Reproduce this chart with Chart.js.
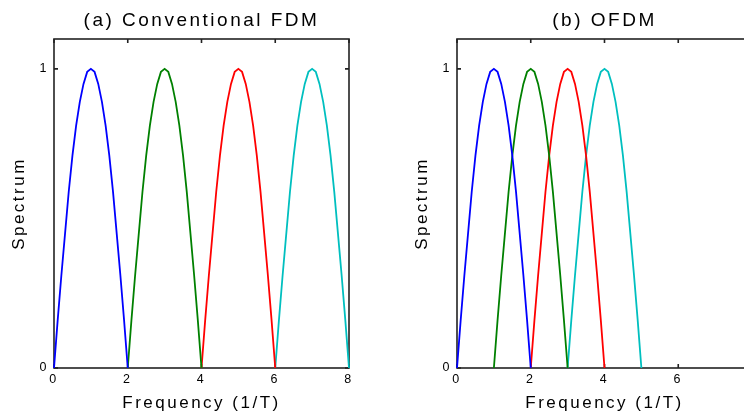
<!DOCTYPE html>
<html><head><meta charset="utf-8">
<script src="https://cdn.jsdelivr.net/npm/chart.js@4.4.1/dist/chart.umd.min.js"></script>
<style>
html,body{margin:0;padding:0;background:#fff;overflow:hidden;width:744px;height:416px;}
#wrapA{position:absolute;left:0;top:0;width:372px;height:416px;}
#wrapB{position:absolute;left:372px;top:0;width:403px;height:416px;}
canvas{display:block;}
</style></head><body>
<div id="wrapA"><canvas id="chartA" width="372" height="416" style="width:372px;height:416px"></canvas></div>
<div id="wrapB"><canvas id="chartB" width="403" height="416" style="width:403px;height:416px"></canvas></div>
<script>
// ---- data ----
const humpOffsets = [0,0.1,0.2,0.3,0.4,0.5,0.6,0.7,0.8,0.9,1.0,1.1,1.2,1.3,1.4,1.5,1.6,1.7,1.8,1.9,2.0];
const humpValues  = [0,0.16,0.31,0.45,0.59,0.71,0.81,0.89,0.95,0.99,1,0.99,0.95,0.89,0.81,0.71,0.59,0.45,0.31,0.16,0];
const fdmStarts  = [0,2,4,6];
const ofdmStarts = [0,1,2,3];
const seriesColors = ['#0000ff','#008000','#ff0000','#00bfbf'];
const xTicks = [0,2,4,6,8];
const yTicks = [0,1];
const panelTitles = ['(a) Conventional FDM','(b) OFDM'];
const xAxisTitle = 'Frequency (1/T)';
const yAxisTitle = 'Spectrum';

const FONT = '"Liberation Sans", Arial, sans-serif';

const boxPlugin = {
  id: 'boxTicks',
  beforeDraw(chart) { chart.ctx.letterSpacing = '2.5px'; },
  beforeDatasetsDraw(chart) {
    const {ctx, chartArea: a, scales: {x, y}} = chart;
    ctx.save();
    ctx.strokeStyle = '#222';
    ctx.lineWidth = 1.6;
    ctx.strokeRect(a.left, a.top, a.right - a.left, a.bottom - a.top);
    const L = 4;
    ctx.beginPath();
    xTicks.forEach(v => {
      const px = x.getPixelForValue(v);
      ctx.moveTo(px, a.bottom); ctx.lineTo(px, a.bottom - L);
      ctx.moveTo(px, a.top); ctx.lineTo(px, a.top + L);
    });
    yTicks.forEach(v => {
      const py = y.getPixelForValue(v);
      ctx.moveTo(a.left, py); ctx.lineTo(a.left + L, py);
      ctx.moveTo(a.right, py); ctx.lineTo(a.right - L, py);
    });
    ctx.stroke();
    ctx.restore();
  }
};

function makeDatasets(starts) {
  return starts.map((s, i) => ({
    data: humpOffsets.map((o, k) => ({x: s + o, y: humpValues[k]})),
    borderColor: seriesColors[i],
    borderWidth: 1.8,
    pointRadius: 0,
    tension: 0,
    fill: false,
    clip: 4
  }));
}

function makeChart(id, starts, title, padLeft) {
  return new Chart(document.getElementById(id), {
    type: 'line',
    data: { datasets: makeDatasets(starts) },
    options: {
      responsive: false,
      animation: false,
      devicePixelRatio: 1,
      layout: { padding: { left: padLeft, right: 23, top: 0, bottom: 0 } },
      plugins: {
        legend: { display: false },
        tooltip: { enabled: false },
        title: {
          display: true, text: title, fullSize: false,
          color: '#000',
          font: { family: FONT, size: 19, weight: 'normal' },
          padding: { top: 9.6, bottom: 6.6 }
        }
      },
      scales: {
        x: {
          type: 'linear', min: 0, max: 8,
          afterBuildTicks: s => { s.ticks = xTicks.map(v => ({value: v})); },
          afterFit: s => { s.height = 48; },
          grid: { display: false, drawTicks: false },
          border: { display: false },
          ticks: { color: '#000', padding: 4, font: { family: FONT, size: 12.5 }, maxRotation: 0 },
          title: { display: true, text: xAxisTitle, color: '#000',
                   font: { family: FONT, size: 17 }, padding: { top: 0, bottom: 2.8 } }
        },
        y: {
          type: 'linear', min: 0, max: 1.1,
          afterBuildTicks: s => { s.ticks = yTicks.map(v => ({value: v})); },
          afterFit: s => { s.width = 53; },
          grid: { display: false, drawTicks: false },
          border: { display: false },
          ticks: { color: '#000', padding: 5, font: { family: FONT, size: 12.5 } },
          title: { display: true, text: yAxisTitle, color: '#000',
                   font: { family: FONT, size: 17 }, padding: { top: 8.1, bottom: 0 } }
        }
      }
    },
    plugins: [boxPlugin]
  });
}

makeChart('chartA', fdmStarts, panelTitles[0], 1);
makeChart('chartB', ofdmStarts, panelTitles[1], 32);
</script>
</body></html>
